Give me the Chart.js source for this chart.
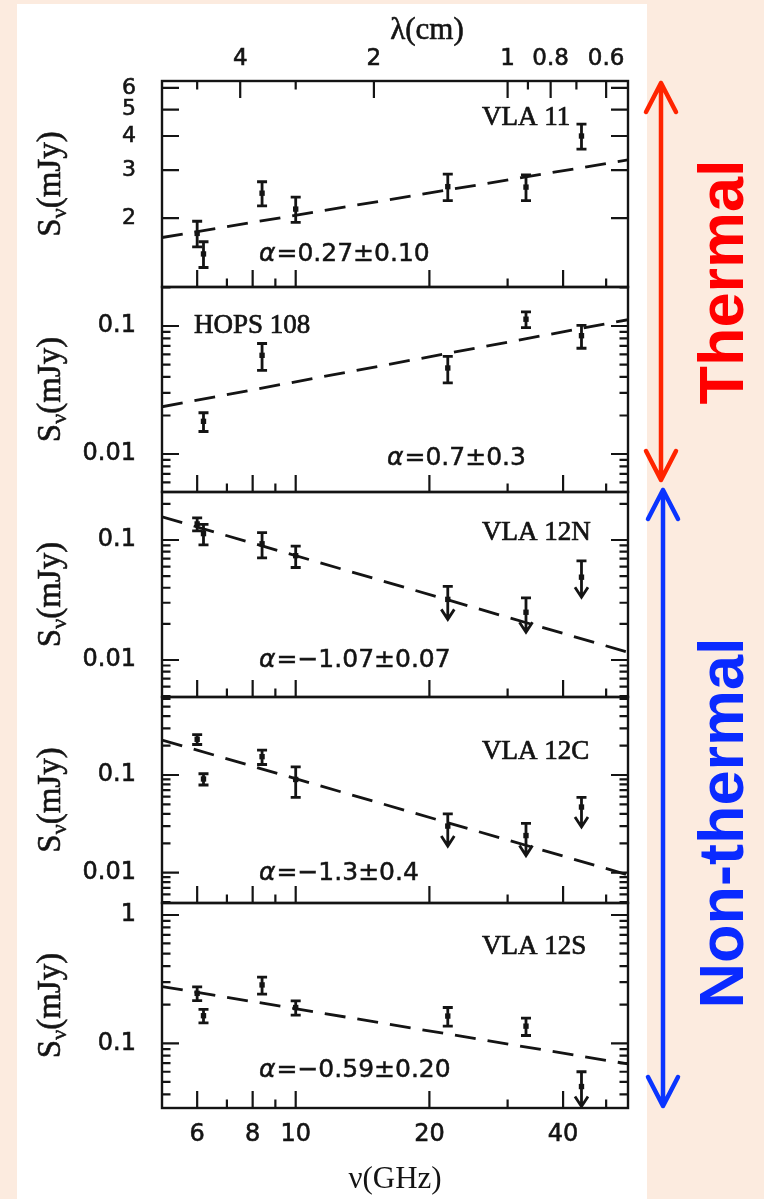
<!DOCTYPE html>
<html>
<head>
<meta charset="utf-8">
<script src="https://cdn.jsdelivr.net/npm/chart.js@4.4.1/dist/chart.umd.min.js"></script>
<style>
  html, body { margin: 0; padding: 0; background: #fcebdf; }
  #sheet { position: absolute; left: 17px; top: 4px; width: 630px; height: 1195px; background: #fff; }
  canvas { position: absolute; left: 0; top: 0; }
</style>
</head>
<body>
<div id="sheet"></div>
<canvas id="p0" width="764" height="1199"></canvas>
<canvas id="p1" width="764" height="1199"></canvas>
<canvas id="p2" width="764" height="1199"></canvas>
<canvas id="p3" width="764" height="1199"></canvas>
<canvas id="p4" width="764" height="1199"></canvas>
<script>
// observing frequencies (GHz)
const freqs = [6.0, 6.2, 8.4, 10, 22, 33, 44];
const nuMin = 5, nuMax = 56;
const fitNu = [nuMin, nuMax];

// axis ticks
const nuTicks = [6, 8, 10, 20, 40];
const nuMinor = [7, 9, 30, 50];
const lamTicks = [4, 2, 1, 0.8, 0.6];
const lamMinor = [5, 3, 0.9, 0.7];
const vla11Ticks = [2, 3, 4, 5, 6];
const faintTicks = [0.01, 0.1];
const vla12sTicks = [0.1, 1];

// flux densities (mJy) and 1-sigma errors, null = not detected in that band
const vla11Flux = [1.76, 1.48, 2.47, 2.16, 2.61, 2.60, 4.00];
const vla11Err = [0.19, 0.16, 0.25, 0.23, 0.29, 0.28, 0.42];
const vla11Fit = [1.70, 3.27];

const hops108Flux = [null, 0.018, 0.059, null, 0.047, 0.113, 0.084];
const hops108Err = [null, 0.003, 0.014, null, 0.011, 0.016, 0.017];
const hops108Fit = [0.0234, 0.112];

const vla12nFlux = [0.136, 0.113, 0.093, 0.074, 0.032, 0.025, 0.049];
const vla12nErr = [0.017, 0.022, 0.022, 0.015, 0.009, 0.008, 0.018];
const vla12nFit = [0.156, 0.0116];

const vla12cFlux = [0.232, 0.091, 0.154, 0.090, 0.030, 0.024, 0.047];
const vla12cErr = [0.027, 0.012, 0.026, 0.031, 0.010, 0.008, 0.012];
const vla12cFit = [0.228, 0.0095];

const vla12sFlux = [0.245, 0.164, 0.285, 0.190, 0.163, 0.136, 0.046];
const vla12sErr = [0.030, 0.020, 0.043, 0.024, 0.027, 0.021, 0.014];
const vla12sFit = [0.277, 0.069];

// upper limits (drawn with a downward arrow)
const noLimits = [false, false, false, false, false, false, false];
const highLimits = [false, false, false, false, true, true, true];
const qLimit = [false, false, false, false, false, false, true];

const panels = [
  { name: 'VLA 11', flux: vla11Flux, err: vla11Err, limit: noLimits, fit: vla11Fit, alpha: '=0.27±0.10',
    yTicks: vla11Ticks, yMin: 1.12, yMax: 6.36, minor: false, top: 81, bottom: 287, tickSize: 22,
    nameAt: [482, 118], alphaAt: [259, 254] },
  { name: 'HOPS 108', flux: hops108Flux, err: hops108Err, limit: noLimits, fit: hops108Fit, alpha: '=0.7±0.3',
    yTicks: faintTicks, yMin: 0.00505, yMax: 0.2017, minor: true, top: 287, bottom: 492, tickSize: 24,
    nameAt: [194, 326], alphaAt: [387, 458] },
  { name: 'VLA 12N', flux: vla12nFlux, err: vla12nErr, limit: highLimits, fit: vla12nFit, alpha: '=−1.07±0.07',
    yTicks: faintTicks, yMin: 0.00492, yMax: 0.251, minor: true, top: 492, bottom: 697, tickSize: 24,
    nameAt: [482, 533], alphaAt: [259, 660] },
  { name: 'VLA 12C', flux: vla12cFlux, err: vla12cErr, limit: highLimits, fit: vla12cFit, alpha: '=−1.3±0.4',
    yTicks: faintTicks, yMin: 0.0049, yMax: 0.628, minor: true, top: 697, bottom: 903, tickSize: 24,
    nameAt: [482, 752], alphaAt: [259, 873] },
  { name: 'VLA 12S', flux: vla12sFlux, err: vla12sErr, limit: qLimit, fit: vla12sFit, alpha: '=−0.59±0.20',
    yTicks: vla12sTicks, yMin: 0.0313, yMax: 1.24, minor: true, top: 903, bottom: 1108, tickSize: 24,
    nameAt: [482, 947], alphaAt: [259, 1070] }
];

const INK = '#141414';
const SERIF = '"Liberation Serif", serif';
const SANS = '"DejaVu Sans", sans-serif';

function minorTicks(min, max, majors) {
  const out = [];
  for (let e = Math.floor(Math.log10(min)); e <= Math.ceil(Math.log10(max)); e++) {
    for (let m = 2; m < 10; m++) {
      const v = m * Math.pow(10, e);
      if (v > min && v < max && !majors.includes(v)) out.push(v);
    }
  }
  return out;
}

// heavier text, like the plotting package's stroked fonts
function inkText(ctx, text, x, y, weight) {
  ctx.fillText(text, x, y);
  ctx.lineWidth = weight;
  ctx.strokeText(text, x, y);
}

// error bars and upper-limit arrows
const errorBars = {
  id: 'errorBars',
  afterDatasetsDraw(chart, args, opts) {
    const { ctx, scales: { x, y } } = chart;
    ctx.save();
    ctx.strokeStyle = INK;
    ctx.lineWidth = 2.8;
    opts.flux.forEach((s, i) => {
      if (s === null) return;
      const px = x.getPixelForValue(freqs[i]);
      const pc = y.getPixelForValue(s);
      const pt = y.getPixelForValue(s + opts.err[i]);
      const pb = opts.limit[i] ? pc : y.getPixelForValue(s - opts.err[i]);
      ctx.beginPath();
      ctx.moveTo(px, pt); ctx.lineTo(px, pb);
      ctx.moveTo(px - 5, pt); ctx.lineTo(px + 5, pt);
      if (!opts.limit[i]) { ctx.moveTo(px - 5, pb); ctx.lineTo(px + 5, pb); }
      ctx.stroke();
      if (opts.limit[i]) {
        const tip = pc + 20;
        ctx.beginPath();
        ctx.moveTo(px, pc); ctx.lineTo(px, tip);
        ctx.moveTo(px - 6.5, tip - 10); ctx.lineTo(px, tip); ctx.lineTo(px + 6.5, tip - 10);
        ctx.stroke();
      }
    });
    ctx.restore();
  }
};

// frame, inward ticks and panel text
const panelDecor = {
  id: 'panelDecor',
  afterDraw(chart, args, opts) {
    const { ctx, chartArea: a, scales } = chart;
    const y = scales.y, x = scales.x;
    ctx.save();
    ctx.strokeStyle = INK;
    ctx.lineWidth = 2.4;
    ctx.strokeRect(a.left, a.top, a.right - a.left, a.bottom - a.top);
    ctx.lineWidth = 2.2;
    ctx.beginPath();
    const yTick = (v, len) => {
      const py = y.getPixelForValue(v);
      ctx.moveTo(a.left, py); ctx.lineTo(a.left + len, py);
      ctx.moveTo(a.right, py); ctx.lineTo(a.right - len, py);
    };
    opts.yTicks.forEach(v => yTick(v, 17));
    if (opts.minor) minorTicks(opts.yMin, opts.yMax, opts.yTicks).forEach(v => yTick(v, 8.5));
    const xTick = (v, len) => {
      const px = x.getPixelForValue(v);
      ctx.moveTo(px, a.bottom); ctx.lineTo(px, a.bottom - len);
    };
    nuTicks.forEach(v => xTick(v, 17));
    nuMinor.forEach(v => xTick(v, 8.5));
    if (scales.x2) {
      const lTick = (v, len) => {
        const px = scales.x2.getPixelForValue(v);
        ctx.moveTo(px, a.top); ctx.lineTo(px, a.top + len);
      };
      lamTicks.forEach(v => lTick(v, 17));
      lamMinor.forEach(v => lTick(v, 8.5));
    }
    ctx.stroke();

    ctx.fillStyle = INK;
    ctx.textBaseline = 'middle';
    ctx.textAlign = 'left';
    ctx.font = '27px ' + SERIF;
    inkText(ctx, opts.name, opts.nameAt[0], opts.nameAt[1], 0.7);
    ctx.font = 'italic 25px ' + SANS;
    const wA = ctx.measureText('α').width;
    inkText(ctx, 'α', opts.alphaAt[0], opts.alphaAt[1], 0.5);
    ctx.font = '25px ' + SANS;
    inkText(ctx, opts.alpha, opts.alphaAt[0] + wA + 1, opts.alphaAt[1], 0.5);

    // S_nu (mJy), rotated
    ctx.save();
    ctx.translate(50, (a.top + a.bottom) / 2);
    ctx.rotate(-Math.PI / 2);
    ctx.textBaseline = 'alphabetic';
    ctx.font = '33px ' + SERIF;
    const wS = ctx.measureText('S').width, wR = ctx.measureText('(mJy)').width;
    ctx.font = '22px ' + SERIF;
    const wN = ctx.measureText('ν').width;
    const x0 = -(wS + wN + wR) / 2;
    ctx.font = '33px ' + SERIF;
    inkText(ctx, 'S', x0, 10, 0.6);
    ctx.font = '22px ' + SERIF;
    inkText(ctx, 'ν', x0 + wS, 16, 0.6);
    ctx.font = '33px ' + SERIF;
    inkText(ctx, '(mJy)', x0 + wS + wN, 10, 0.6);
    ctx.restore();

    if (scales.x2) {
      ctx.textAlign = 'center';
      ctx.font = '31px ' + SERIF;
      inkText(ctx, 'λ(cm)', 427, 31, 0.6);
    }
    ctx.restore();
  }
};

// Thermal / Non-thermal brackets at the right
function drawBracket(ctx, x, y1, y2, color) {
  ctx.save();
  ctx.strokeStyle = color;
  ctx.lineWidth = 4.5;
  ctx.lineCap = 'round';
  ctx.lineJoin = 'round';
  ctx.beginPath();
  ctx.moveTo(x, y1); ctx.lineTo(x, y2);
  ctx.moveTo(x - 15, y1 + 29); ctx.lineTo(x, y1); ctx.lineTo(x + 15, y1 + 29);
  ctx.moveTo(x - 15, y2 - 29); ctx.lineTo(x, y2); ctx.lineTo(x + 15, y2 - 29);
  ctx.stroke();
  ctx.restore();
}
function drawSideLabel(ctx, text, x, y, color) {
  ctx.save();
  ctx.translate(x, y);
  ctx.rotate(-Math.PI / 2);
  ctx.fillStyle = color;
  ctx.font = 'bold 63px "Liberation Sans", sans-serif';
  ctx.textAlign = 'center';
  ctx.textBaseline = 'middle';
  ctx.fillText(text, 0, 0);
  ctx.restore();
}
const sideNotes = {
  id: 'sideNotes',
  afterDraw(chart) {
    const ctx = chart.ctx;
    drawBracket(ctx, 661, 83, 480, '#ff2400');
    drawSideLabel(ctx, 'Thermal', 726, 282, '#ff0000');
    drawBracket(ctx, 663, 490, 1106, '#0a34ff');
    drawSideLabel(ctx, 'Non-thermal', 726, 823, '#0a2aff');
  }
};

const tickText = size => ({
  autoSkip: false, maxRotation: 0, color: INK,
  textStrokeColor: INK, textStrokeWidth: 0.6,
  font: { family: SANS, size }, callback: v => String(v)
});

panels.forEach((p, k) => {
  const first = k === 0, last = k === panels.length - 1;
  const points = freqs.map((f, i) => ({ x: f, y: p.flux[i] })).filter(d => d.y !== null);

  const scales = {
    x: {
      type: 'logarithmic', min: nuMin, max: nuMax, bounds: 'data', display: last,
      grid: { display: false }, border: { display: false },
      afterBuildTicks: s => { s.ticks = nuTicks.map(v => ({ value: v })); },
      afterFit: s => { if (last) s.height = 91; },
      ticks: { ...tickText(24), padding: 4 },
      title: { display: last, text: 'ν(GHz)', color: INK,
        font: { family: SERIF, size: 31 }, padding: { top: 0, bottom: 1 } }
    },
    y: {
      type: 'logarithmic', min: p.yMin, max: p.yMax, bounds: 'data',
      grid: { display: false }, border: { display: false },
      afterBuildTicks: s => { s.ticks = p.yTicks.map(v => ({ value: v })); },
      afterFit: s => { s.width = 162; },
      ticks: { ...tickText(p.tickSize), padding: 18 }
    }
  };
  if (first) {
    scales.x2 = {
      type: 'logarithmic', axis: 'x', position: 'top', reverse: true, bounds: 'data',
      min: 30 / nuMax, max: 30 / nuMin,
      grid: { display: false }, border: { display: false },
      afterBuildTicks: s => { s.ticks = lamTicks.map(v => ({ value: v })); },
      afterFit: s => { s.height = 81; },
      ticks: { ...tickText(23), padding: 0 }
    };
  }

  new Chart(document.getElementById('p' + k), {
    type: 'scatter',
    data: {
      datasets: [{
        data: fitNu.map((x, i) => ({ x, y: p.fit[i] })),
        showLine: true,
        borderColor: INK,
        borderWidth: 2.8,
        borderDash: [21, 12],
        pointRadius: 0
      }, {
        data: points,
        pointStyle: 'rect',
        pointRadius: 3.8,
        backgroundColor: INK,
        borderWidth: 0
      }]
    },
    options: {
      responsive: false,
      animation: false,
      devicePixelRatio: 1,
      events: [],
      layout: { padding: { left: 0, right: 764 - 628, top: first ? 0 : p.top, bottom: last ? 0 : 1199 - p.bottom } },
      scales,
      plugins: {
        legend: { display: false },
        tooltip: { enabled: false },
        errorBars: { flux: p.flux, err: p.err, limit: p.limit },
        panelDecor: p
      }
    },
    plugins: first ? [errorBars, panelDecor, sideNotes] : [errorBars, panelDecor]
  });
});
</script>
</body>
</html>
